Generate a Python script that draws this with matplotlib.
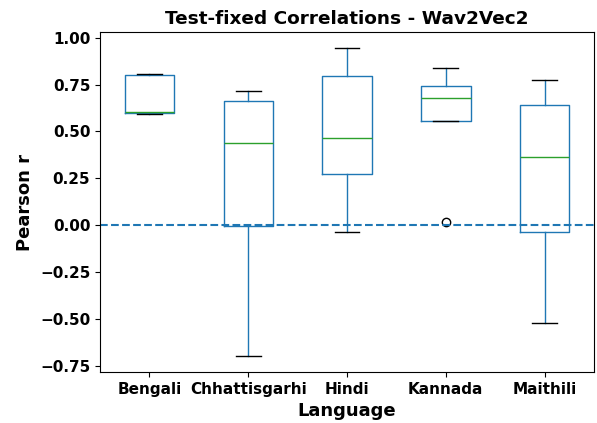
import matplotlib
matplotlib.use("Agg")
import matplotlib.pyplot as plt

languages = ["Bengali", "Chhattisgarhi", "Hindi", "Kannada", "Maithili"]
whisker_low = [0.592, -0.700, -0.039, 0.558, -0.521]
q1 = [0.597, -0.005, 0.274, 0.558, -0.036]
median = [0.603, 0.436, 0.466, 0.677, 0.364]
q3 = [0.800, 0.665, 0.798, 0.743, 0.642]
whisker_high = [0.805, 0.718, 0.948, 0.839, 0.773]
outliers = [[], [], [], [0.016], []]

stats = []
for i, lang in enumerate(languages):
    stats.append(dict(label=lang, whislo=whisker_low[i], q1=q1[i], med=median[i],
                      q3=q3[i], whishi=whisker_high[i], fliers=outliers[i]))

fig = plt.figure(figsize=(5.97, 4.23), dpi=100)
ax = fig.add_axes([0.1675, 0.1206, 0.8275, 0.8034])
ax.bxp(stats, widths=0.5,
       boxprops=dict(color="#1f77b4"),
       whiskerprops=dict(color="#1f77b4"),
       capprops=dict(color="black"),
       medianprops=dict(color="#2ca02c"),
       flierprops=dict(marker="o", markerfacecolor="none", markeredgecolor="black"))
ax.axhline(0, color="#1f77b4", linestyle="--")
ax.set_ylim(-0.784, 1.03)
ax.set_xlim(0.5, 5.5)
ax.set_title("Test-fixed Correlations - Wav2Vec2", fontsize=13.3, fontweight="bold")
ax.set_xlabel("Language", fontsize=13, fontweight="bold")
ax.set_ylabel("Pearson r", fontsize=13, fontweight="bold")
for lbl in ax.get_xticklabels() + ax.get_yticklabels():
    lbl.set_fontweight("bold")
    lbl.set_fontsize(11)
fig.savefig("out.png", dpi=100)
